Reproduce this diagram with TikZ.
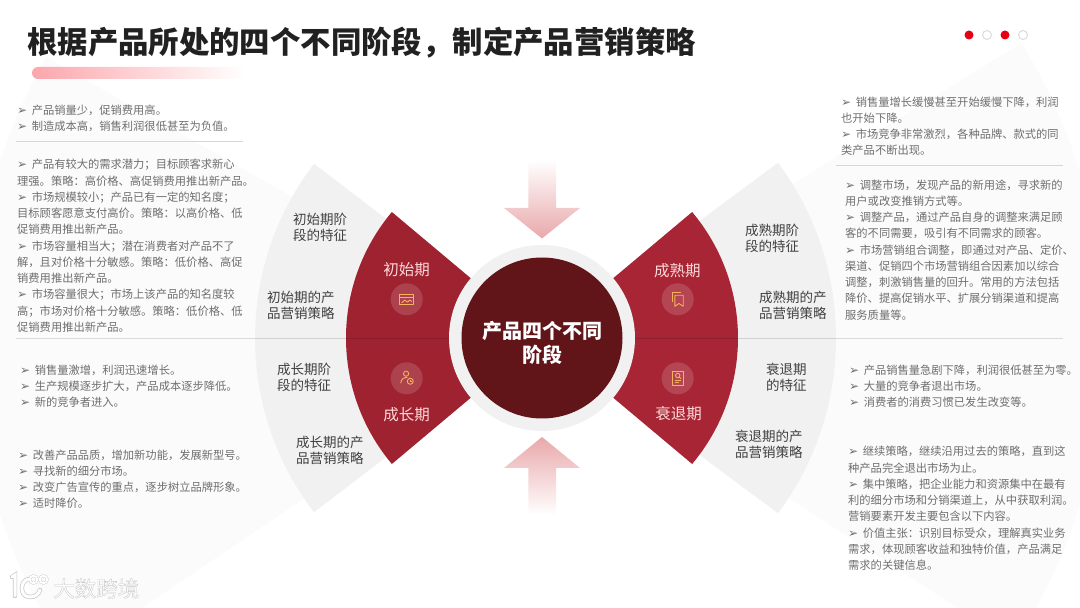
\documentclass[tikz,border=0pt]{standalone}
\usepackage{fontspec}
\setmainfont{Noto Sans CJK SC}
\newfontfamily\dejavu{DejaVu Sans}
\definecolor{hong1}{HTML}{9E2230}
\definecolor{hong2}{HTML}{A72535}
\definecolor{shen}{HTML}{621519}
\definecolor{hui1}{HTML}{F1F1F1}
\definecolor{hui2}{HTML}{FBFBFB}
\definecolor{fen}{HTML}{E9A8AA}
\definecolor{tiao}{HTML}{FBA6AC}
\definecolor{hongdian}{HTML}{E60012}
\definecolor{cheng}{HTML}{F6B25C}
\providecommand{\jt}{\makebox[14.6pt][l]{\dejavu\fontsize{12}{12}\selectfont ➢}}
\providecommand{\dou}{\char"FF0C\relax}
\providecommand{\fenh}{\char"FF1B\relax}
\providecommand{\mao}{\char"FF1A\relax}
\providecommand{\shanxing}[4]{
    \fill[#1] (#2:#4) arc[start angle=#2, end angle=#3, radius=#4] -- (0,0) -- cycle;
}
\providecommand{\yaodian}[4]{
    \node[yaodian] (#1) at ({#2},{613.6-#3}) {#4};
}
\providecommand{\tezheng}[4]{
    \node[tezheng] (#1) at ({#2},{614.8-#3}) {#4};
}

\begin{document}
\begin{tikzpicture}[
    x=1pt, y=1pt,
    yaodian/.style={anchor=north west, inner sep=0pt, align=left, text=black!57, font=\fontsize{11.27}{16.25}\selectfont},
    tezheng/.style={anchor=north west, inner sep=0pt, align=left, text=black!75, font=\fontsize{13.5}{16}\selectfont},
    qici/.style={inner sep=0pt, text=red!15!white, font=\fontsize{15.5}{18}\selectfont},
    quan/.style={circle, fill=white, fill opacity=0.15, minimum size=32pt, inner sep=0pt},
    tubiao/.style={draw=cheng, line width=0.9pt, line join=round},
    dian/.style={circle, minimum size=9pt, inner sep=0pt, fill=hongdian},
    kongdian/.style={circle, minimum size=9pt, inner sep=0pt, draw=black!14, line width=1pt, fill=white},
    fenge/.style={draw=black!16, line width=0.8pt}
]
    \useasboundingbox (0,0) rectangle (1080,608);
    \clip (0,0) rectangle (1080,608);

    % SHANXING
    \begin{scope}[shift={(542,270)}]
        \shanxing{hui2}{150.5}{214}{570}
        \shanxing{hui2}{-33}{31.6}{563}
        \shanxing{hui1}{142.6}{217.4}{287}
        \shanxing{hui1}{-36.6}{36.6}{294}
        \shanxing{hong1}{140}{220}{196}
        \shanxing{hong2}{-40}{40}{196}
    \end{scope}

    % FENGE XIAN
    \coordinate (F1) at (16,269.5);
    \coordinate (F2) at (1063,269.5);
    \draw[black, opacity=0.13, line width=0.8pt] (F1) -- (F2);
    \coordinate (F3) at (16,467);
    \coordinate (F4) at (243,467);
    \draw[fenge] (F3) -- (F4);
    \coordinate (F5) at (836,443);
    \coordinate (F6) at (1063,443);
    \draw[fenge] (F5) -- (F6);

    % ZHONGXIN
    \node[circle, fill=hui1, minimum size=186pt, inner sep=0pt] (H) at (542,270) {};
    \node[circle, fill=shen, minimum size=161pt, inner sep=0pt] (Z) at (542,270) {};
    \node[inner sep=0pt, align=center, text=white, font=\fontsize{20}{24.6}\bfseries\selectfont] (P) at (542,265) {产品四个不同\\阶段};

    % JIANTOU
    \shade[top color=white, bottom color=fen] (528.3,448) -- (556,448) -- (556,400) -- (580,400) -- (542,369.5) -- (504,400) -- (528.3,400) -- cycle;
    \shade[bottom color=white, top color=fen] (528.3,93) -- (556,93) -- (556,140) -- (580,140) -- (542,171) -- (504,140) -- (528.3,140) -- cycle;

    % BIAOTI
    \node[anchor=west, inner sep=0pt, text=black!87, font=\fontsize{30.4}{34}\bfseries\selectfont] (T) at (27,565) {根据产品所处的四个不同阶段\dou 制定产品营销策略};
    \shade[left color=tiao, right color=white, rounded corners=6pt] (32,529) rectangle (245,541);
    \node[dian] (D1) at (969,573) {};
    \node[kongdian] (D2) at (987,573) {};
    \node[dian] (D3) at (1005,573) {};
    \node[kongdian] (D4) at (1023,573) {};

    % QICI
    \node[qici] (Q1) at (406.7,338.7) {初始期};
    \node[qici] (Q2) at (406.7,193) {成长期};
    \node[qici] (Q3) at (677.3,337.3) {成熟期};
    \node[qici] (Q4) at (678.7,194) {衰退期};
    \node[quan] (I1) at (406.7,308.7) {};
    \node[quan] (I2) at (406.7,229.7) {};
    \node[quan] (I3) at (677.7,308.7) {};
    \node[quan] (I4) at (677.7,229.7) {};

    % TUBIAO
    \begin{scope}[shift={(I1.center)}]
        \draw[tubiao] (-6.8,-5.2) rectangle (6.8,5.2);
        \draw[tubiao] (-6.8,1.6) -- (6.8,1.6);
        \draw[tubiao] (-5,-3.6) -- (-2,-0.8) -- (0.8,-2.8) -- (3,-0.8) -- (5.2,-2.2);
    \end{scope}
    \begin{scope}[shift={(I2.center)}]
        \draw[tubiao] (-0.6,4.6) circle (2.6);
        \draw[tubiao] (-6,-5) .. controls (-5.6,-0.8) and (-3,1) .. (0.6,0.8);
        \draw[tubiao] (3.6,-3) circle (3);
        \draw[tubiao, line width=0.6pt] (3.6,-1.4) -- (3.6,-3) -- (5,-3);
    \end{scope}
    \begin{scope}[shift={(I3.center)}]
        \draw[tubiao] (-5.5,-3) -- (-5.5,6.5) -- (3,6.5);
        \draw[tubiao] (-2.8,4) -- (5.5,4) -- (5.5,-7) -- (1.3,-4.2) -- (-2.8,-7) -- cycle;
    \end{scope}
    \begin{scope}[shift={(I4.center)}]
        \draw[tubiao] (-5.5,-7) rectangle (5.5,7);
        \draw[tubiao] (0,2.8) circle (2.2);
        \draw[tubiao] (1.6,1.2) -- (3.2,-0.4);
        \draw[tubiao] (-3,-2.2) -- (3,-2.2);
        \draw[tubiao] (-3,-4.6) -- (1,-4.6);
    \end{scope}

    % TEZHENG
    \tezheng{C1}{293}{220}{初始期阶\\段的特征}
    \tezheng{C2}{267}{297.5}{初始期的产\\品营销策略}
    \tezheng{C3}{277}{370}{成长期阶\\段的特征}
    \tezheng{C4}{296}{442.7}{成长期的产\\品营销策略}
    \tezheng{C5}{745}{231}{成熟期阶\\段的特征}
    \tezheng{C6}{759}{298}{成熟期的产\\品营销策略}
    \tezheng{C7}{766}{370}{衰退期\\的特征}
    \tezheng{C8}{735}{436.7}{衰退期的产\\品营销策略}

    % ZUO
    \yaodian{L1}{17}{110}{\jt 产品销量少\dou 促销费用高。\\\jt 制造成本高\dou 销售利润很低甚至为负值。}
    \yaodian{L2}{17}{164.7}{\jt 产品有较大的需求潜力\fenh 目标顾客求新心\\理强。策略\mao 高价格、高促销费用推出新产品。\\\jt 市场规模较小\fenh 产品已有一定的知名度\fenh \\目标顾客愿意支付高价。策略\mao 以高价格、低\\促销费用推出新产品。\\\jt 市场容量相当大\fenh 潜在消费者对产品不了\\解\dou 且对价格十分敏感。策略\mao 低价格、高促\\销费用推出新产品。\\\jt 市场容量很大\fenh 市场上该产品的知名度较\\高\fenh 市场对价格十分敏感。策略\mao 低价格、低\\促销费用推出新产品。}
    \yaodian{L3}{20}{370}{\jt 销售量激增\dou 利润迅速增长。\\\jt 生产规模逐步扩大\dou 产品成本逐步降低。\\\jt 新的竞争者进入。}
    \yaodian{L4}{18}{455}{\jt 改善产品品质\dou 增加新功能\dou 发展新型号。\\\jt 寻找新的细分市场。\\\jt 改变广告宣传的重点\dou 逐步树立品牌形象。\\\jt 适时降价。}

    % YOU
    \yaodian{R1}{841}{102}{\jt 销售量增长缓慢甚至开始缓慢下降\dou 利润\\也开始下降。\\\jt 市场竞争非常激烈\dou 各种品牌、款式的同\\类产品不断出现。}
    \yaodian{R2}{845}{185}{\jt 调整市场\dou 发现产品的新用途\dou 寻求新的\\用户或改变推销方式等。\\\jt 调整产品\dou 通过产品自身的调整来满足顾\\客的不同需要\dou 吸引有不同需求的顾客。\\\jt 市场营销组合调整\dou 即通过对产品、定价、\\渠道、促销四个市场营销组合因素加以综合\\调整\dou 刺激销售量的回升。常用的方法包括\\降价、提高促销水平、扩展分销渠道和提高\\服务质量等。}
    \yaodian{R3}{849}{370}{\jt 产品销售量急剧下降\dou 利润很低甚至为零。\\\jt 大量的竞争者退出市场。\\\jt 消费者的消费习惯已发生改变等。}
    \yaodian{R4}{848}{451.7}{\jt 继续策略\dou 继续沿用过去的策略\dou 直到这\\种产品完全退出市场为止。\\\jt 集中策略\dou 把企业能力和资源集中在最有\\利的细分市场和分销渠道上\dou 从中获取利润。\\营销要素开发主要包含以下内容。\\\jt 价值主张\mao 识别目标受众\dou 理解真实业务\\需求\dou 体现顾客收益和独特价值\dou 产品满足\\需求的关键信息。}

    % SHUIYIN
    \foreach \yanse/\kuan in {black!22/4.4, white/3} {
        \draw[\yanse, line width=\kuan pt, line cap=round] (12,31) -- (15,33) -- (15,12);
        \draw[\yanse, line width=\kuan pt, line cap=round] (29,29) .. controls (20,28) and (19,12) .. (29,11) .. controls (35,10.5) and (39,14) .. (40,18);
        \draw[\yanse, line width=\kuan*0.6 pt] (33.5,28.5) circle (3.8);
        \draw[\yanse, line width=\kuan*0.6 pt] (43.5,28.5) circle (3.8);
    }
    \node[anchor=west, inner sep=0pt, text=white, font=\fontsize{21.5}{24}\selectfont] (W) at (53,19.5) {\special{pdf:code 2 Tr 0.35 w 0.78 G}大数跨境};
\end{tikzpicture}
\end{document}
